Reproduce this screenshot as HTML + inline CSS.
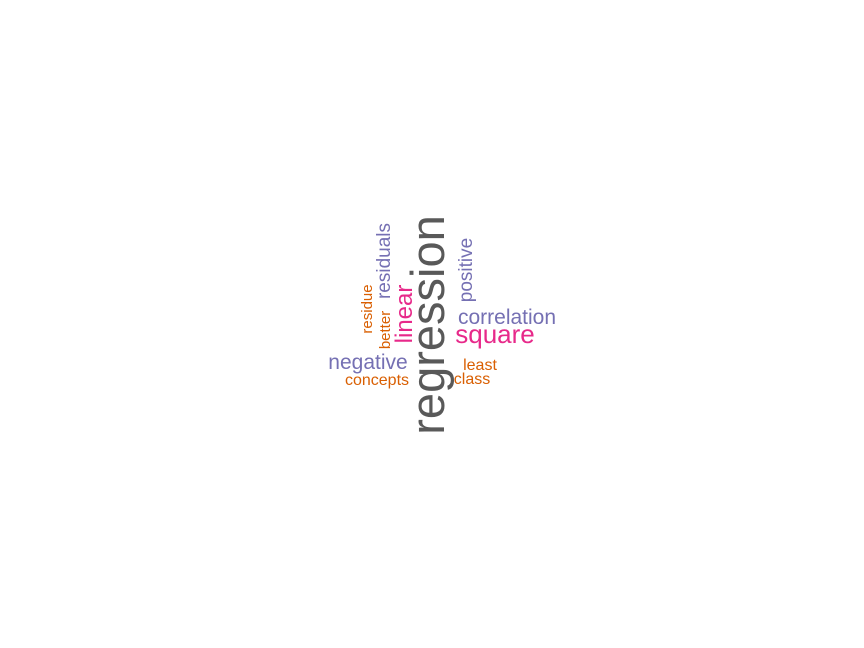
<!DOCTYPE html>
<html><head><meta charset="utf-8"><style>body{margin:0;background:#fff}svg{display:block}text{font-family:"Liberation Sans",Arial,sans-serif}</style></head>
<body>
<svg width="864" height="648">
<g text-anchor="middle">
<text transform="translate(444,325) rotate(-90)" font-size="47" fill="#595959">regression</text>
<text transform="translate(390,261) rotate(-90)" font-size="19" fill="#7570b3">residuals</text>
<text transform="translate(412,314) rotate(-90)" font-size="24" fill="#e7298a">linear</text>
<text transform="translate(372,309) rotate(-90)" font-size="15" fill="#d95f02">residue</text>
<text transform="translate(390,330) rotate(-90)" font-size="15" fill="#d95f02">better</text>
<text transform="translate(472,270) rotate(-90)" font-size="19" fill="#7570b3">positive</text>
<text x="507" y="324" font-size="21" fill="#7570b3">correlation</text>
<text x="495" y="343" font-size="26" fill="#e7298a">square</text>
<text x="368" y="369" font-size="21" fill="#7570b3">negative</text>
<text x="377" y="385" font-size="16" fill="#d95f02">concepts</text>
<text x="480" y="370" font-size="16" fill="#d95f02">least</text>
<text x="472" y="384" font-size="16" fill="#d95f02">class</text>
</g>
</svg>
</body></html>
